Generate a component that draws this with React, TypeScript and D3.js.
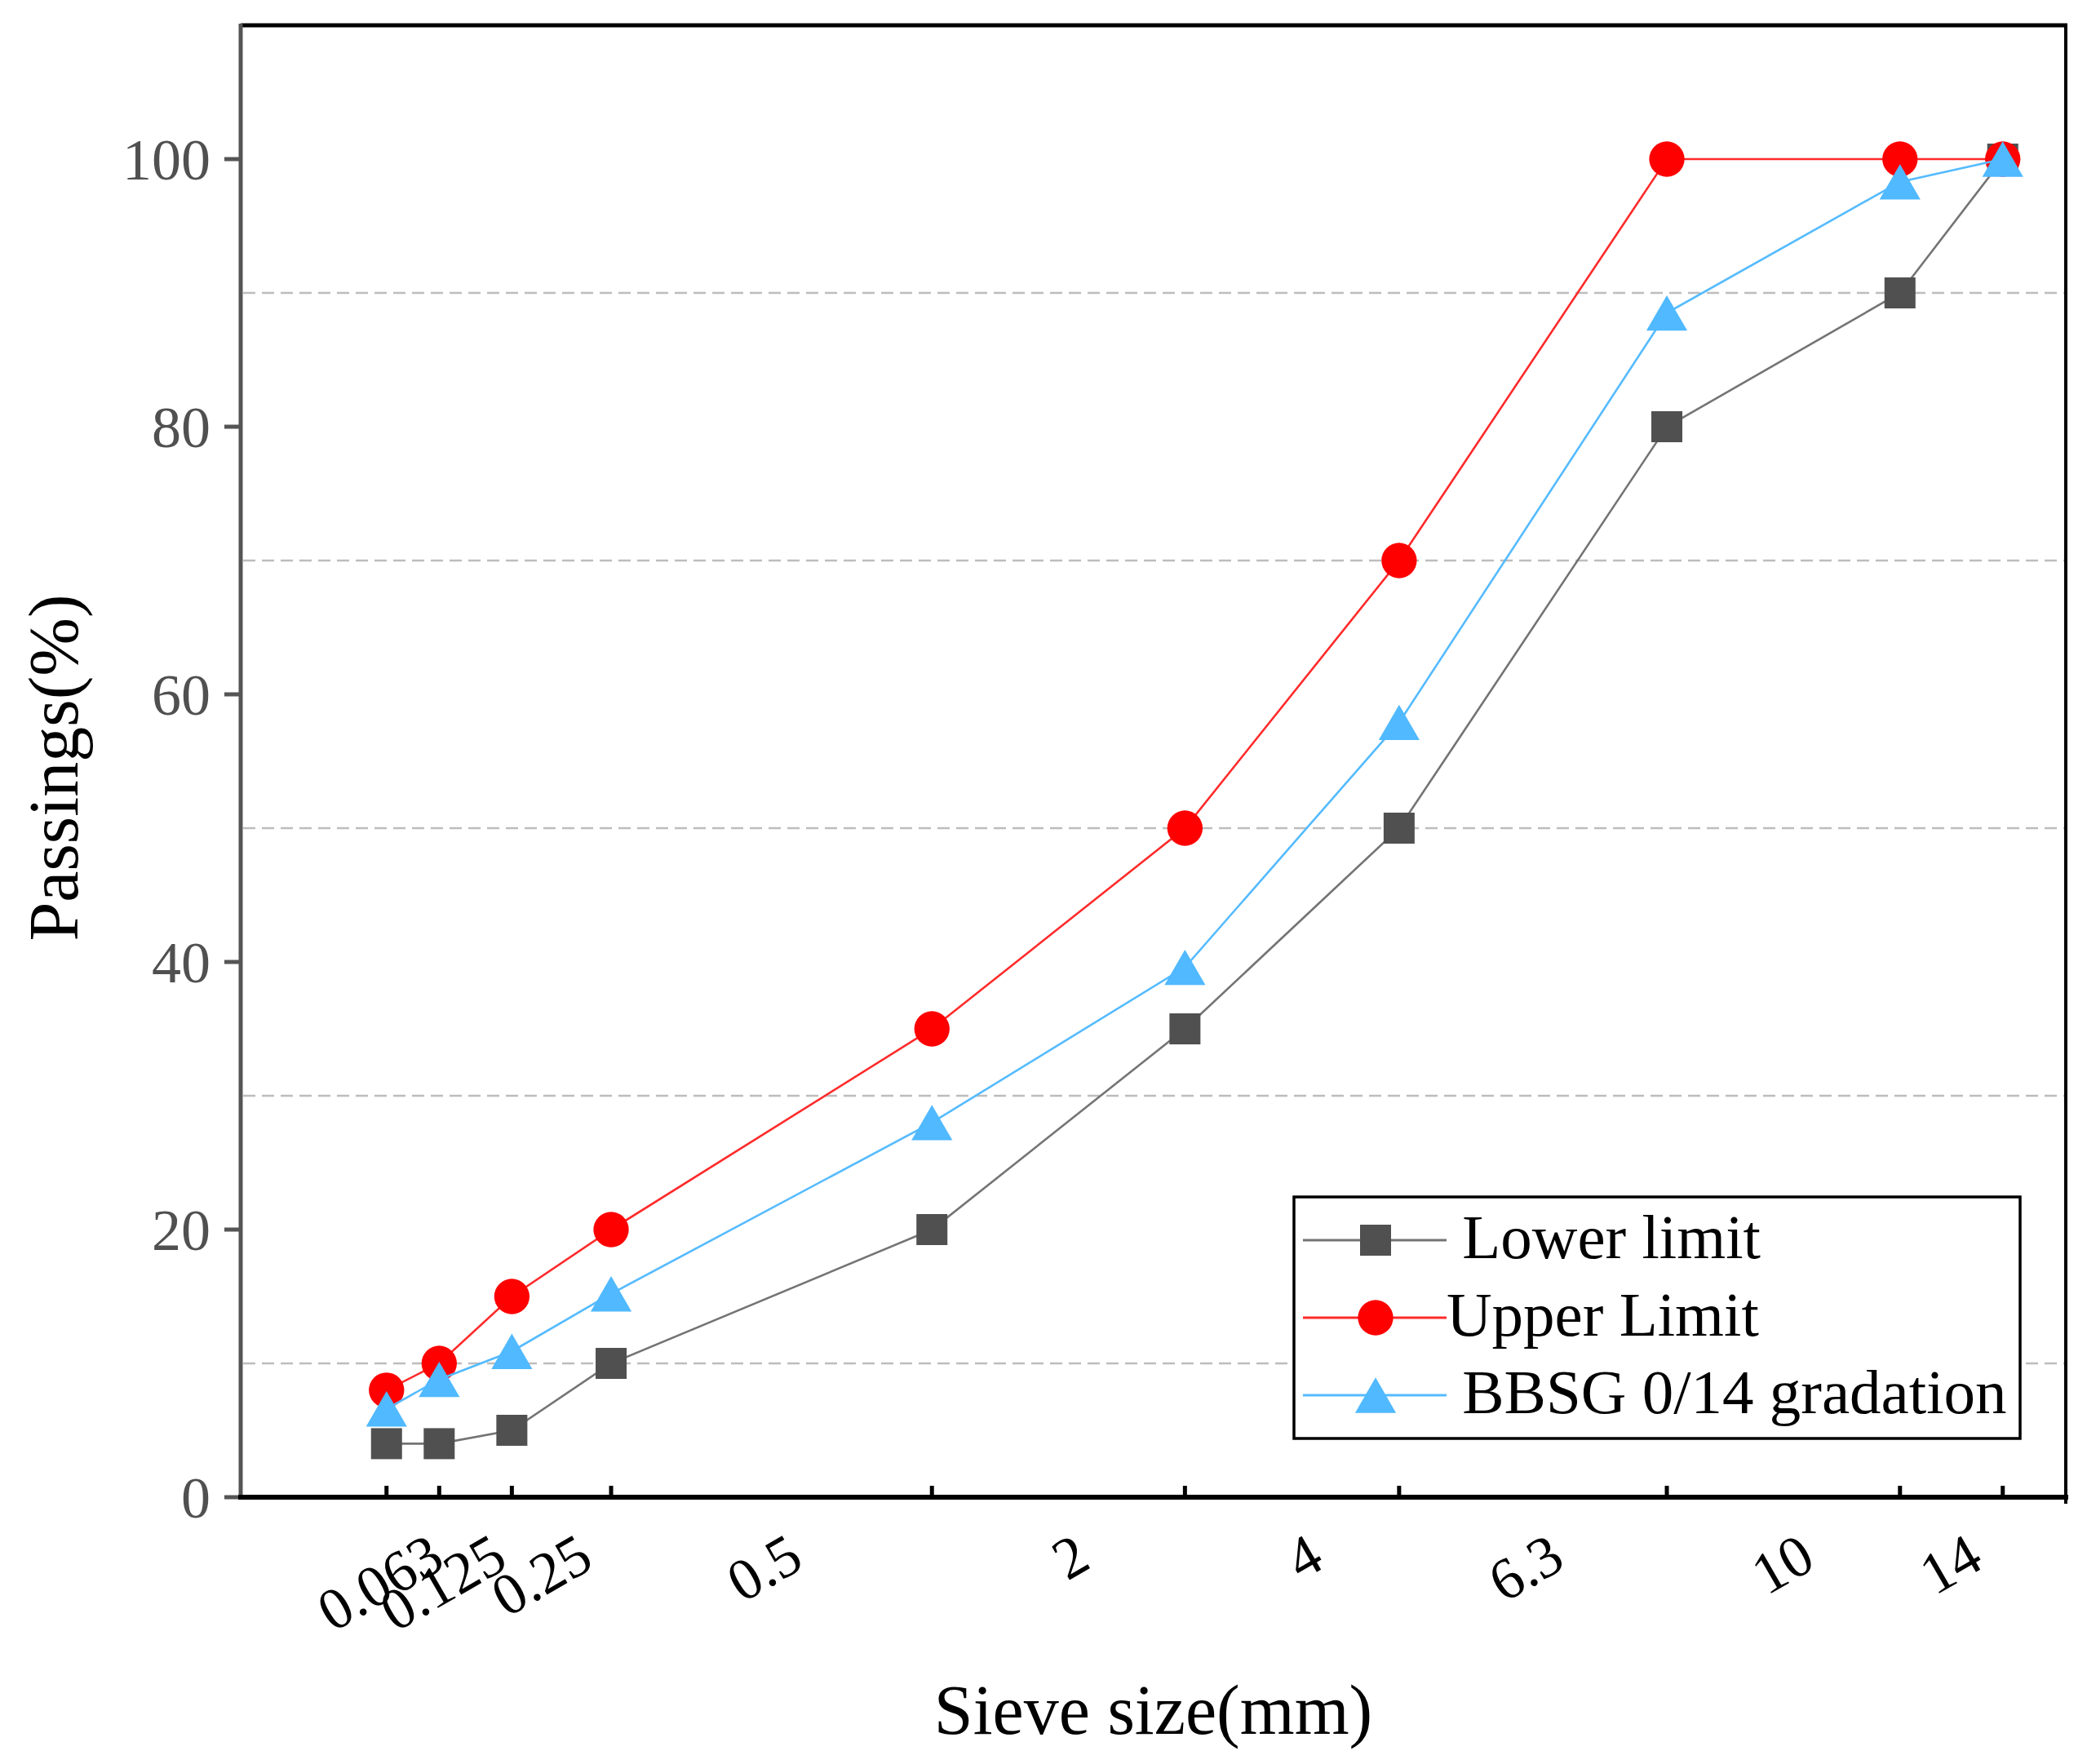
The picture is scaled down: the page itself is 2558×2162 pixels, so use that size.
import React from "react";
import * as d3 from "d3";

// ---- data ----
const sieves = [0.063, 0.125, 0.25, 0.5, 2, 4, 6.3, 10, 14, 16];
const lowerLimit = [4, 4, 5, 10, 20, 35, 50, 80, 90, 100];
const upperLimit = [8, 10, 15, 20, 35, 50, 70, 100, 100, 100];
const bbsgGradation = [6.6, 8.8, 10.9, 15.2, 28, 39.6, 57.9, 88.5, 98.3, 100];
const xTickLabels = ["0.063", "0.125", "0.25", "0.5", "2", "4", "6.3", "10", "14"];
const yTicks = [0, 20, 40, 60, 80, 100];
const gridValues = [10, 30, 50, 70, 90];
const seriesNames = ["Lower limit", "Upper Limit", "BBSG 0/14 gradation"];

const FONT = "'Liberation Serif', 'Times New Roman', serif";

type MarkerKind = "square" | "circle" | "triangle";

function Marker({ kind, cx, cy, fill, s }: { kind: MarkerKind; cx: number; cy: number; fill: string; s: number }) {
  if (kind === "square") {
    return <rect x={cx - s / 2} y={cy - s / 2} width={s} height={s} fill={fill} />;
  }
  if (kind === "circle") {
    return <circle cx={cx} cy={cy} r={s * 0.57} fill={fill} />;
  }
  const w = s * 1.32;
  const h = s * 1.14;
  return (
    <path
      d={`M${cx},${cy - h / 2}L${cx + w / 2},${cy + h / 2}L${cx - w / 2},${cy + h / 2}Z`}
      fill={fill}
    />
  );
}

export default function App() {
  const W = 2558;
  const H = 2162;
  const m = { left: 295, right: 2532, top: 31, bottom: 1835 };

  const x = d3.scalePow().exponent(0.45).domain([0, 17.3]).range([m.left, m.right]);
  const y = d3.scaleLinear().domain([0, 110]).range([m.bottom, m.top]);

  const series = [
    { name: seriesNames[0], values: lowerLimit, fill: "#505050", stroke: "#747474", kind: "square" as MarkerKind, lead: " " },
    { name: seriesNames[1], values: upperLimit, fill: "#ff0000", stroke: "#ff2a2a", kind: "circle" as MarkerKind, lead: "" },
    { name: seriesNames[2], values: bbsgGradation, fill: "#50b9ff", stroke: "#55bbff", kind: "triangle" as MarkerKind, lead: " " },
  ];

  const line = d3
    .line<number>()
    .x((_, i) => x(sieves[i]))
    .y((d) => y(d));

  const markerSize = 38;

  // tick-label anchors sit between consecutive sieve ticks, as in the reference
  const labelAnchors = xTickLabels.map((_, i) => (x(sieves[i]) + x(sieves[i + 1])) / 2 + 42);

  const legend = { x0: 1586, y0: 1467, x1: 2476, y1: 1763, row0: 1520, step: 95 };

  return (
    <svg
      width={W}
      height={H}
      viewBox={`0 0 ${W} ${H}`}
      style={{ position: "absolute", left: 0, top: 0, display: "block", background: "#fff" }}
    >
      <rect x={0} y={0} width={W} height={H} fill="#fff" />

      {/* grid lines */}
      {gridValues.map((g) => (
        <line
          key={g}
          x1={m.left + 3}
          x2={m.right - 2}
          y1={y(g)}
          y2={y(g)}
          stroke="#bdbdbd"
          strokeWidth={2.5}
          strokeDasharray="15 8"
        />
      ))}

      {/* frame: top and right */}
      <line x1={m.left} x2={m.right + 2} y1={m.top} y2={m.top} stroke="#000" strokeWidth={5} />
      <line x1={m.right} x2={m.right} y1={m.top} y2={m.bottom + 8} stroke="#000" strokeWidth={4} />

      {/* left axis */}
      <line x1={m.left} x2={m.left} y1={m.top - 2} y2={m.bottom + 2} stroke="#555" strokeWidth={5} />
      {yTicks.map((t) => (
        <g key={t}>
          <line x1={m.left - 20} x2={m.left} y1={y(t)} y2={y(t)} stroke="#555" strokeWidth={5} />
          <text
            x={258}
            y={y(t)}
            dy="0.35em"
            textAnchor="end"
            fontFamily={FONT}
            fontSize={72}
            fill="#505050"
          >
            {t}
          </text>
        </g>
      ))}

      {/* bottom axis */}
      <line x1={m.left - 3} x2={m.right + 3} y1={m.bottom} y2={m.bottom} stroke="#000" strokeWidth={6} />
      {sieves.map((s) => (
        <line key={s} x1={x(s)} x2={x(s)} y1={m.bottom} y2={m.bottom - 14} stroke="#000" strokeWidth={5} />
      ))}
      {xTickLabels.map((lab, i) => (
        <text
          key={lab}
          transform={`translate(${labelAnchors[i]},${m.bottom + 85}) rotate(-30)`}
          textAnchor="end"
          fontFamily={FONT}
          fontSize={72}
          fill="#000"
        >
          {lab}
        </text>
      ))}

      {/* axis titles */}
      <text
        x={(m.left + m.right) / 2}
        y={2125}
        textAnchor="middle"
        fontFamily={FONT}
        fontSize={86}
        fill="#000"
      >
        Sieve size(mm)
      </text>
      <text
        transform={`translate(95,${(m.top + m.bottom) / 2 + 8}) rotate(-90)`}
        textAnchor="middle"
        fontFamily={FONT}
        fontSize={86}
        fill="#000"
      >
        Passings(%)
      </text>

      {/* series */}
      {series.map((se) => (
        <g key={se.name}>
          <path d={line(se.values) || ""} fill="none" stroke={se.stroke} strokeWidth={2.6} />
          {se.values.map((v, i) => (
            <Marker key={i} kind={se.kind} cx={x(sieves[i])} cy={y(v)} fill={se.fill} s={markerSize} />
          ))}
        </g>
      ))}

      {/* legend */}
      <rect
        x={legend.x0}
        y={legend.y0}
        width={legend.x1 - legend.x0}
        height={legend.y1 - legend.y0}
        fill="#fff"
        stroke="#000"
        strokeWidth={3.5}
      />
      {series.map((se, i) => {
        const ry = legend.row0 + i * legend.step;
        return (
          <g key={se.name}>
            <line x1={1597} x2={1773} y1={ry} y2={ry} stroke={se.stroke} strokeWidth={3} />
            <Marker kind={se.kind} cx={1686} cy={ry} fill={se.fill} s={markerSize} />
            <text
              x={1773}
              y={ry + 22}
              fontFamily={FONT}
              fontSize={77}
              fill="#000"
              style={{ whiteSpace: "pre" }}
            >
              {se.lead + se.name}
            </text>
          </g>
        );
      })}
    </svg>
  );
}
